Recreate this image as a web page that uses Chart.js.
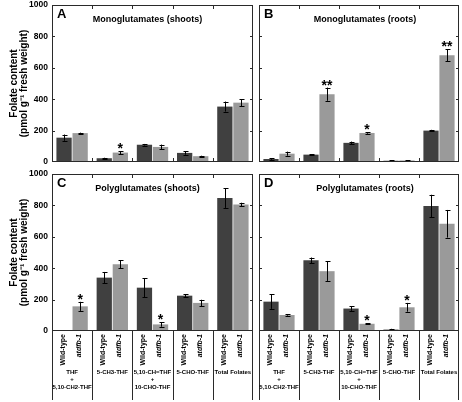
<!DOCTYPE html>
<html>
<head>
<meta charset="utf-8">
<script src="https://cdn.jsdelivr.net/npm/chart.js@4"></script>
<style>
    body { margin: 0; background: #fff; }
    #wrap { position: relative; width: 462px; height: 402px; }
    #wrap canvas { position: absolute; }
</style>
</head>
<body>
<div id="wrap">
    <canvas id="panel-a" width="256" height="168" style="left:0;top:0"></canvas>
    <canvas id="panel-b" width="206" height="168" style="left:256px;top:0"></canvas>
    <canvas id="panel-c" width="256" height="234" style="left:0;top:168px"></canvas>
    <canvas id="panel-d" width="206" height="234" style="left:256px;top:168px"></canvas>
</div>
<script>
var categories = ['THF + 5,10-CH2-THF', '5-CH3-THF', '5,10-CH=THF + 10-CHO-THF', '5-CHO-THF', 'Total Folates'];
var groupLabels = [['THF', '+', '5,10-CH2-THF'], ['5-CH3-THF'], ['5,10-CH=THF', '+', '10-CHO-THF'], ['5-CHO-THF'], ['Total Folates']];
var genotypes = ['Wild-type', 'atdfb-1'];
var yTicks = [0, 200, 400, 600, 800, 1000];

// monoglutamates, shoots
var monoShootsWT = [155, 24, 110, 58, 353];
var monoShootsWTErr = [20, 3, 5, 12, 32];
var monoShootsMut = [184, 60, 96, 37, 378];
var monoShootsMutErr = [3, 10, 15, 3, 22];
var monoShootsSig = ['', '*', '', '', ''];

// monoglutamates, roots
var monoRootsWT = [19, 47, 122, 8, 200];
var monoRootsWTErr = [5, 3, 8, 2, 5];
var monoRootsMut = [53, 432, 185, 10, 680];
var monoRootsMutErr = [13, 42, 5, 2, 38];
var monoRootsSig = ['', '**', '*', '', '**'];

// polyglutamates, shoots
var polyShootsWT = [0, 340, 276, 225, 847];
var polyShootsWTErr = [0, 36, 60, 10, 63];
var polyShootsMut = [157, 425, 42, 179, 806];
var polyShootsMutErr = [29, 26, 15, 20, 11];
var polyShootsSig = ['*', '', '*', '', ''];

// polyglutamates, roots
var polyRootsWT = [187, 450, 143, 9, 796];
var polyRootsWTErr = [46, 18, 15, 5, 72];
var polyRootsMut = [102, 381, 46, 151, 683];
var polyRootsMutErr = [4, 62, 3, 28, 88];
var polyRootsSig = ['', '', '*', '*', ''];

var FONT = '"Liberation Sans", Arial, sans-serif';
var DARK = '#404040';
var LIGHT = '#9a9a9a';
var FRAME = '#2a2a2a';

Chart.defaults.font.family = FONT;

var panelDecor = {
    id: 'panelDecor',
    afterDatasetsDraw: function (chart, args, opts) {
        var ctx = chart.ctx;
        var a = chart.chartArea;
        var y = chart.scales.y;
        var n = categories.length;
        var step = a.width / n;
        ctx.save();

        // error bars + significance stars
        chart.data.datasets.forEach(function (ds, di) {
            var meta = chart.getDatasetMeta(di);
            meta.data.forEach(function (bar, i) {
                var v = ds.data[i];
                var e = ds.errors[i];
                var topY = y.getPixelForValue(v + e);
                if (e) {
                    var botY = y.getPixelForValue(Math.max(v - e, 0));
                    var cx = Math.round(bar.x) + 0.5;
                    ctx.strokeStyle = '#000';
                    ctx.lineWidth = 1;
                    ctx.beginPath();
                    ctx.moveTo(cx, topY); ctx.lineTo(cx, botY);
                    ctx.moveTo(cx - 2, Math.round(topY) + 0.5); ctx.lineTo(cx + 3, Math.round(topY) + 0.5);
                    ctx.moveTo(cx - 2, Math.round(botY) + 0.5); ctx.lineTo(cx + 3, Math.round(botY) + 0.5);
                    ctx.stroke();
                }
                if (ds.sig && ds.sig[i]) {
                    ctx.fillStyle = '#000';
                    ctx.font = 'bold 14px ' + FONT;
                    ctx.textAlign = 'center';
                    ctx.textBaseline = 'alphabetic';
                    ctx.fillText(ds.sig[i], bar.x, topY + 2);
                }
            });
        });

        // frame
        ctx.strokeStyle = FRAME;
        ctx.lineWidth = 1;
        ctx.strokeRect(a.left + 0.5, a.top + 0.5, a.width - 1, a.height - 1);

        // inward ticks
        ctx.beginPath();
        yTicks.forEach(function (t) {
            if (t === 0 || t === 1000) return;
            var py = Math.round(y.getPixelForValue(t)) + 0.5;
            ctx.moveTo(a.left, py); ctx.lineTo(a.left + 3, py);
            ctx.moveTo(a.right, py); ctx.lineTo(a.right - 3, py);
        });
        for (var k = 1; k < n; k++) {
            var px = Math.round(a.left + k * step) + 0.5;
            ctx.moveTo(px, a.top); ctx.lineTo(px, a.top + 4);
            if (!opts.labels) {
                ctx.moveTo(px, a.bottom); ctx.lineTo(px, a.bottom - 4);
            }
        }
        ctx.stroke();

        // panel letter and title
        ctx.fillStyle = '#000';
        ctx.textBaseline = 'alphabetic';
        ctx.textAlign = 'left';
        ctx.font = 'bold 13px ' + FONT;
        ctx.fillText(opts.letter, a.left + 5, a.top + 13);
        ctx.font = 'bold 9px ' + FONT;
        ctx.textAlign = 'center';
        ctx.textBaseline = 'middle';
        ctx.fillText(opts.title, (a.left + a.right) / 2 + opts.shift, a.top + 14.5);

        // category area under the bottom panels
        if (opts.labels) {
            ctx.beginPath();
            for (var j = 0; j <= n; j++) {
                var sx = Math.round(a.left + j * step) + 0.5;
                if (j === n) sx -= 1;
                ctx.moveTo(sx, a.bottom); ctx.lineTo(sx, chart.height - 2);
            }
            ctx.stroke();

            [0, 1].forEach(function (di) {
                ctx.font = (di ? 'italic ' : '') + 'bold 7px ' + FONT;
                chart.getDatasetMeta(di).data.forEach(function (bar) {
                    ctx.save();
                    ctx.translate(bar.x - 1, a.bottom + 3);
                    ctx.rotate(-Math.PI / 2);
                    ctx.textAlign = 'right';
                    ctx.textBaseline = 'middle';
                    ctx.fillText(genotypes[di], 0, 0);
                    ctx.restore();
                });
            });

            ctx.font = 'bold 6px ' + FONT;
            ctx.textAlign = 'center';
            ctx.textBaseline = 'middle';
            groupLabels.forEach(function (lines, gi) {
                var gx = chart.scales.x.getPixelForValue(gi);
                lines.forEach(function (line, li) {
                    ctx.fillText(line, gx, a.bottom + 41 + li * 7.5);
                });
            });
        }
        ctx.restore();
    }
};

function makePanel(id, cfg) {
    return new Chart(document.getElementById(id), {
        type: 'bar',
        data: {
            labels: categories,
            datasets: [
                { label: genotypes[0], data: cfg.wt, errors: cfg.wtErr, sig: null, backgroundColor: DARK, borderWidth: 0 },
                { label: genotypes[1], data: cfg.mut, errors: cfg.mutErr, sig: cfg.sig, backgroundColor: LIGHT, borderWidth: 0 }
            ]
        },
        options: {
            responsive: false,
            animation: false,
            devicePixelRatio: 1,
            layout: { padding: cfg.padding },
            datasets: { bar: { categoryPercentage: 0.8, barPercentage: 0.95 } },
            plugins: {
                legend: { display: false },
                tooltip: { enabled: false },
                panelDecor: { letter: cfg.letter, title: cfg.title, shift: cfg.shift, labels: cfg.labels }
            },
            scales: {
                x: { display: false },
                y: {
                    display: cfg.axis,
                    min: 0,
                    max: 1000,
                    afterFit: function (scale) {
                        scale.width = cfg.axis ? 52 : 0;
                        scale.paddingTop = 0;
                        scale.paddingBottom = 0;
                    },
                    ticks: {
                        stepSize: 200,
                        padding: 4,
                        color: '#000',
                        font: { size: 8.5, weight: 'bold' },
                        callback: function (value) { return String(value); }
                    },
                    grid: { display: false, drawTicks: false },
                    border: { display: false },
                    title: {
                        display: true,
                        text: ['Folate content', '(pmol g\u207B\u00B9 fresh weight)'],
                        color: '#000',
                        font: { size: 10, weight: 'bold', lineHeight: 1 },
                        padding: { top: 9, bottom: 0 }
                    }
                }
            }
        },
        plugins: [panelDecor]
    });
}

makePanel('panel-a', {
    wt: monoShootsWT, wtErr: monoShootsWTErr, mut: monoShootsMut, mutErr: monoShootsMutErr, sig: monoShootsSig,
    letter: 'A', title: 'Monoglutamates (shoots)', shift: -5, labels: false, axis: true,
    padding: { left: 0, right: 3, top: 5, bottom: 6 }
});
makePanel('panel-b', {
    wt: monoRootsWT, wtErr: monoRootsWTErr, mut: monoRootsMut, mutErr: monoRootsMutErr, sig: monoRootsSig,
    letter: 'B', title: 'Monoglutamates (roots)', shift: 6, labels: false, axis: false,
    padding: { left: 3, right: 3, top: 5, bottom: 6 }
});
makePanel('panel-c', {
    wt: polyShootsWT, wtErr: polyShootsWTErr, mut: polyShootsMut, mutErr: polyShootsMutErr, sig: polyShootsSig,
    letter: 'C', title: 'Polyglutamates (shoots)', shift: -5, labels: true, axis: true,
    padding: { left: 0, right: 3, top: 6, bottom: 71 }
});
makePanel('panel-d', {
    wt: polyRootsWT, wtErr: polyRootsWTErr, mut: polyRootsMut, mutErr: polyRootsMutErr, sig: polyRootsSig,
    letter: 'D', title: 'Polyglutamates (roots)', shift: 6, labels: true, axis: false,
    padding: { left: 3, right: 3, top: 6, bottom: 71 }
});
</script>
</body>
</html>
